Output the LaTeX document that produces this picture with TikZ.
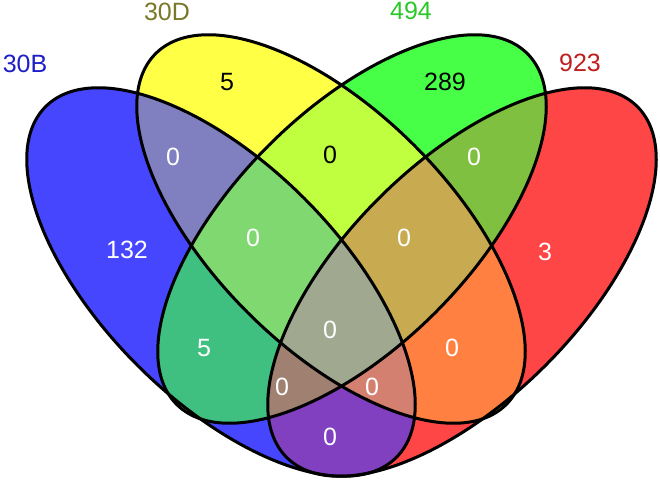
\documentclass[tikz,border=0pt]{standalone}
\usepackage{fontspec}
\setmainfont{Liberation Sans}
\usetikzlibrary{positioning}

% region colours
\definecolor{colB}{RGB}{70,70,255}
\definecolor{colY}{RGB}{255,255,70}
\definecolor{colG}{RGB}{70,255,70}
\definecolor{colR}{RGB}{255,70,70}
\definecolor{colBY}{RGB}{128,128,192}
\definecolor{colYG}{RGB}{192,255,64}
\definecolor{colGR}{RGB}{128,192,64}
\definecolor{colBG}{RGB}{64,192,128}
\definecolor{colYR}{RGB}{255,128,64}
\definecolor{colBR}{RGB}{128,64,192}
\definecolor{colBYG}{RGB}{128,216,112}
\definecolor{colYGR}{RGB}{200,170,80}
\definecolor{colBGR}{RGB}{160,128,112}
\definecolor{colBYR}{RGB}{212,128,112}
\definecolor{colBYGR}{RGB}{160,168,144}
% label colours
\definecolor{catB}{RGB}{30,30,200}
\definecolor{catY}{RGB}{120,120,40}
\definecolor{catG}{RGB}{40,200,40}
\definecolor{catR}{RGB}{190,30,30}

\def\setB{(221,198) circle [x radius=248pt, y radius=118pt, rotate=-45]}
\def\setY{(331,251) circle [x radius=248pt, y radius=118pt, rotate=-45]}
\def\setG{(352,251) circle [x radius=248pt, y radius=118pt, rotate=45]}
\def\setR{(462,198) circle [x radius=248pt, y radius=118pt, rotate=45]}
\newcommand\vennarea[2]{\begin{scope}#2\fill[#1] (0,0) rectangle (660,480);\end{scope}}

\begin{document}
\begin{tikzpicture}[x=1pt,y=1pt,
        every node/.style={font=\fontsize{25}{30}\selectfont, inner sep=0pt},
        num/.style={text=white}, numdark/.style={text=black},
        outline/.style={draw=black, line width=3pt}
        ]
        \useasboundingbox (0,0) rectangle (660,480);

        % single sets
        \fill[colB] \setB;
        \fill[colY] \setY;
        \fill[colG] \setG;
        \fill[colR] \setR;
        % pairs
        \vennarea{colBY}{\clip\setB;\clip\setY;}
        \vennarea{colYG}{\clip\setY;\clip\setG;}
        \vennarea{colGR}{\clip\setG;\clip\setR;}
        \vennarea{colBG}{\clip\setB;\clip\setG;}
        \vennarea{colYR}{\clip\setY;\clip\setR;}
        \vennarea{colBR}{\clip\setB;\clip\setR;}
        % triples
        \vennarea{colBYG}{\clip\setB;\clip\setY;\clip\setG;}
        \vennarea{colYGR}{\clip\setY;\clip\setG;\clip\setR;}
        \vennarea{colBGR}{\clip\setB;\clip\setG;\clip\setR;}
        \vennarea{colBYR}{\clip\setB;\clip\setY;\clip\setR;}
        % all four
        \vennarea{colBYGR}{\clip\setB;\clip\setY;\clip\setG;\clip\setR;}

        \draw[outline] \setB;
        \draw[outline] \setY;
        \draw[outline] \setG;
        \draw[outline] \setR;

        % counts
        \node[numdark] (nY)    at (227,398) {5};
        \node[numdark] (nG)    at (445,398) {289};
        \node[num]     (nB)    at (127,230) {132};
        \node[num]     (nR)    at (545,228) {3};
        \node[num]     (nBY)   at (173,323) {0};
        \node[numdark] (nYG)   at (330,325) {0};
        \node[num]     (nGR)   at (474,323) {0};
        \node[num]     (nBYG)  at (253,242) {0};
        \node[num]     (nYGR)  at (404,242) {0};
        \node[num]     (nBYGR) at (330,150) {0};
        \node[num]     (nBG)   at (204,132) {5};
        \node[num]     (nYR)   at (452,132) {0};
        \node[num]     (nBGR)  at (282,93)  {0};
        \node[num]     (nBYR)  at (372,93)  {0};
        \node[num]     (nBR)   at (330,43)  {0};

        % set names
        \node[text=catB] (catB) at (25,416)  {30B};
        \node[text=catY] (catY) at (167,468) {30D};
        \node[text=catG] (catG) at (411,469) {494};
        \node[text=catR] (catR) at (580,417) {923};
\end{tikzpicture}
\end{document}
